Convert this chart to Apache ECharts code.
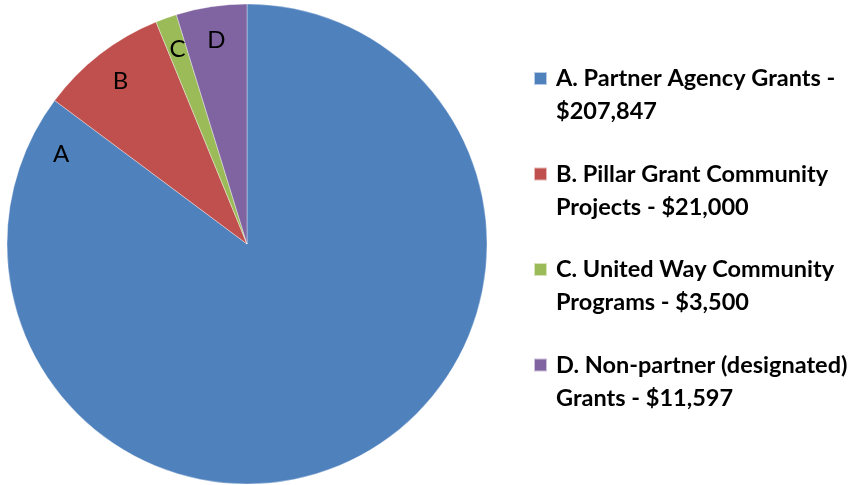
<!DOCTYPE html>
<html>
<head>
<meta charset="utf-8">
<script src="https://cdn.jsdelivr.net/npm/echarts@6/dist/echarts.min.js"></script>
<style>
  html, body { margin: 0; padding: 0; background: #fff; }
  #chart { width: 868px; height: 485px; }
</style>
</head>
<body>
<div id="chart"></div>
<script>
// slice letters, legend texts and amounts
const categories = ['A', 'B', 'C', 'D'];
const legendNames = [
    'A. Partner Agency Grants -\n$207,847',
    'B. Pillar Grant Community\nProjects - $21,000',
    'C. United Way Community\nPrograms - $3,500',
    'D. Non-partner (designated)\nGrants - $11,597'
];
const values = [207847, 21000, 3500, 11597];
const colors = ['#4F81BD', '#C0504D', '#9BBB59', '#8064A2'];

const cx = 247, cy = 244, R = 240;
const total = values.reduce((a, b) => a + b, 0);

// angle of each label (deg), B/C/D at mid slice, A pulled near its end
const labelAngle = idx => {
    const before = values.slice(0, idx).reduce((a, b) => a + b, 0);
    const start = 90 - 360 * before / total;
    const end = start - 360 * values[idx] / total;
    if (idx === 0) return end + 11;
    return (start + end) / 2;
};

const legendFont = {
    fontFamily: 'Lato',
    fontWeight: 'bold',
    fontSize: 23.5,
    lineHeight: 33,
    color: '#000',
    padding: [0, 0, 0, 4]
};

const myChart = echarts.init(document.getElementById('chart'));
myChart.setOption({
    animation: false,
    color: colors,
    legend: {
        orient: 'vertical',
        left: 533,
        top: 29,
        padding: 0,
        itemWidth: 13,
        itemHeight: 13,
        itemGap: 1,
        icon: 'rect',
        selectedMode: false,
        data: legendNames,
        // empty first line so the icon lines up with the first text line
        formatter: name => '{p| }\n' + name.split('\n').map(s => '{t|' + s + '}').join('\n'),
        textStyle: {
            rich: {
                p: { fontSize: 12, lineHeight: 33, height: 33 },
                t: legendFont
            }
        }
    },
    series: [{
        type: 'pie',
        center: [cx, cy],
        radius: R,
        startAngle: 90,
        clockwise: true,
        silent: true,
        itemStyle: {
            borderColor: 'rgba(255,255,255,0.6)',
            borderWidth: 0.6
        },
        label: {
            show: true,
            position: 'inside',
            formatter: p => categories[p.dataIndex],
            fontFamily: 'Lato',
            fontSize: 24,
            color: '#000'
        },
        labelLine: { show: false },
        labelLayout: params => {
            const a = labelAngle(params.dataIndex) * Math.PI / 180;
            const r = R * 0.86;
            return {
                x: cx + r * Math.cos(a),
                y: cy - r * Math.sin(a),
                align: 'center',
                verticalAlign: 'middle'
            };
        },
        data: values.map((v, i) => ({ name: legendNames[i], value: v }))
    }]
});
</script>
</body>
</html>
